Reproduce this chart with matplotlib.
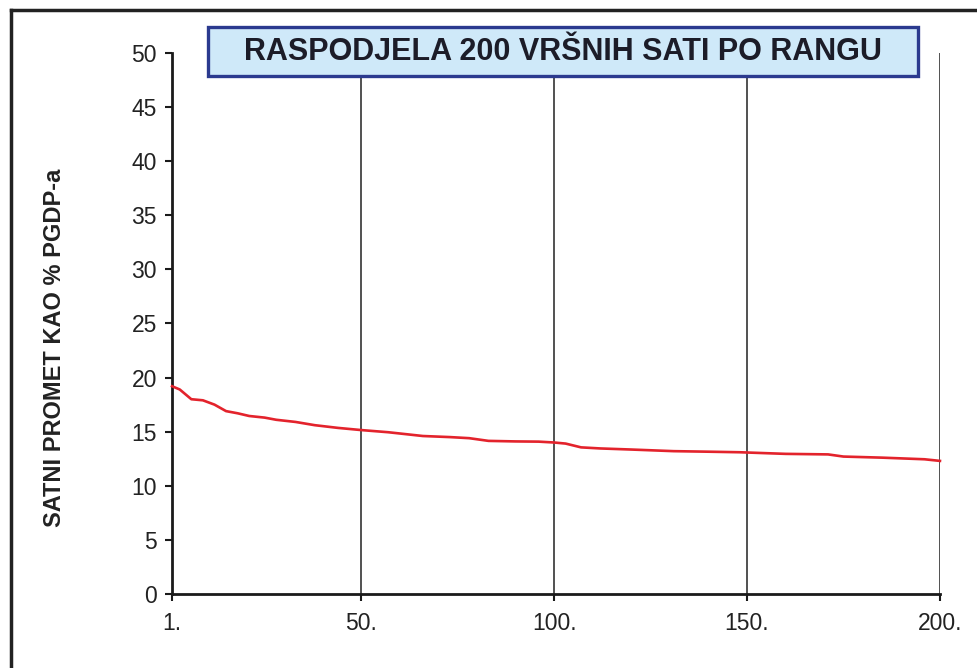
import matplotlib.pyplot as plt
from matplotlib.patches import Rectangle
from matplotlib.lines import Line2D

plt.rcParams['font.family'] = ['Liberation Sans', 'DejaVu Sans']

# rang sata i satni promet (% PGDP-a), očitano sa slike
rang = [1, 3, 4, 6, 9, 12, 15, 18, 21, 25, 28, 33, 38, 44, 50, 57, 66, 73, 78,
        83, 90, 96, 100, 103, 107, 112, 120, 131, 140, 148, 160, 171, 175, 185,
        196, 200]
promet = [19.2, 18.9, 18.6, 18.0, 17.9, 17.5, 16.9, 16.7, 16.45, 16.3, 16.1,
          15.9, 15.6, 15.35, 15.15, 14.95, 14.6, 14.5, 14.4, 14.15, 14.1, 14.08,
          14.0, 13.9, 13.55, 13.45, 13.35, 13.2, 13.15, 13.1, 12.95, 12.9, 12.7,
          12.6, 12.45, 12.3]

x_ticks = [1, 50, 100, 150, 200]
x_labels = ['1.', '50.', '100.', '150.', '200.']
y_ticks = list(range(0, 51, 5))
naslov = 'RASPODJELA 200 VRŠNIH SATI PO RANGU'
os_y = 'SATNI PROMET KAO % PGDP-a'

fig = plt.figure(figsize=(9.78, 6.68), dpi=100)
ax = fig.add_axes([0.1759, 0.1108, 0.9611 - 0.1759, 0.9207 - 0.1108])

for xv in x_ticks[1:]:
    ax.axvline(xv, color='#333333', lw=1.2, zorder=1)

ax.plot(rang, promet, color='#e3232c', lw=1.9, zorder=3, clip_on=False)

ax.set_xlim(1, 200)
ax.set_ylim(0, 50)
ax.set_xticks(x_ticks)
ax.set_xticklabels(x_labels)
ax.set_yticks(y_ticks)

for s in ['top', 'right']:
    ax.spines[s].set_visible(False)
for s in ['left', 'bottom']:
    ax.spines[s].set_linewidth(2.0)
    ax.spines[s].set_color('#1a1a1a')

ax.tick_params(axis='both', direction='out', length=5, width=1.5,
               colors='#1a1a1a', labelsize=16.5, labelcolor='#222222')
ax.tick_params(axis='x', pad=8)
ax.tick_params(axis='y', pad=6)

fig.text(0.056, 0.48, os_y, rotation=90, ha='center', va='center',
         fontsize=17, fontweight='bold', color='#222222')

# okvir naslova
fig.patches.append(Rectangle((0.2127, 0.8862), 0.726, 0.0734,
                             transform=fig.transFigure, facecolor='#cfe9f9',
                             edgecolor='#2b3a8f', lw=2.4, zorder=5))
fig.text(0.5757, 0.9229, naslov, ha='center', va='center', fontsize=22,
         fontweight='bold', color='#1c1c28', zorder=6)

# vanjski okvir
fig.lines.append(Line2D([0.011, 1.0], [0.985, 0.985], transform=fig.transFigure,
                        color='#222222', lw=2.5))
fig.lines.append(Line2D([0.011, 0.011], [0.0, 0.985], transform=fig.transFigure,
                        color='#222222', lw=2.5))

fig.savefig('out.png', dpi=100)
